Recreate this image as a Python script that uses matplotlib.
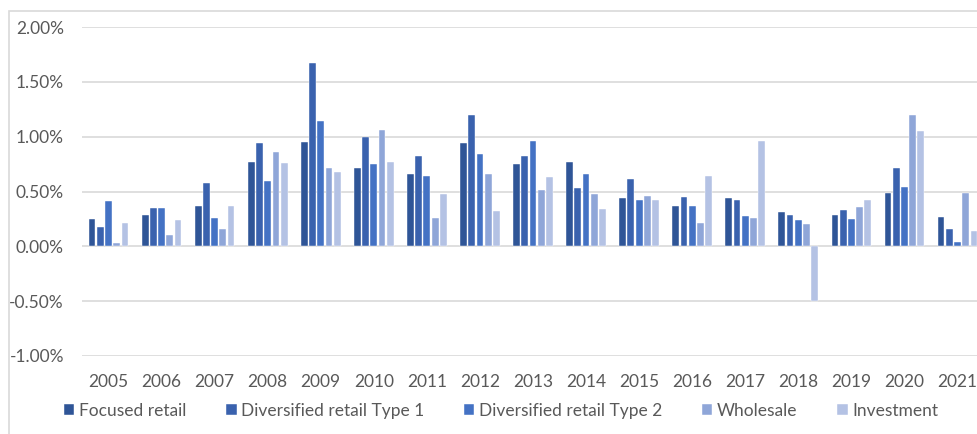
import numpy as np
import matplotlib.pyplot as plt
from matplotlib.patches import Rectangle
from matplotlib.ticker import FuncFormatter

plt.rcParams['font.family'] = ['Lato', 'DejaVu Sans']

years = ['2005', '2006', '2007', '2008', '2009', '2010', '2011', '2012', '2013',
         '2014', '2015', '2016', '2017', '2018', '2019', '2020', '2021']

focused_retail = [0.25, 0.29, 0.37, 0.77, 0.95, 0.71, 0.66, 0.94, 0.75, 0.77, 0.44, 0.37, 0.44, 0.31, 0.29, 0.49, 0.27]
diversified_1 = [0.18, 0.35, 0.58, 0.94, 1.67, 1.00, 0.82, 1.20, 0.82, 0.53, 0.61, 0.45, 0.42, 0.29, 0.33, 0.71, 0.16]
diversified_2 = [0.41, 0.35, 0.26, 0.60, 1.14, 0.75, 0.64, 0.84, 0.96, 0.66, 0.42, 0.37, 0.28, 0.24, 0.25, 0.54, 0.04]
wholesale = [0.03, 0.10, 0.16, 0.86, 0.71, 1.06, 0.26, 0.66, 0.51, 0.48, 0.46, 0.21, 0.26, 0.20, 0.36, 1.20, 0.49]
investment = [0.21, 0.24, 0.37, 0.76, 0.68, 0.77, 0.48, 0.32, 0.63, 0.34, 0.42, 0.64, 0.96, -0.50, 0.42, 1.05, 0.14]

series = [
    ('Focused retail', focused_retail, '#2F5597'),
    ('Diversified retail Type 1', diversified_1, '#3A62AE'),
    ('Diversified retail Type 2', diversified_2, '#4472C4'),
    ('Wholesale', wholesale, '#8FA6D8'),
    ('Investment', investment, '#B4C2E4'),
]

fig = plt.figure(figsize=(9.77, 4.34), dpi=100)

# outer chart frame (runs off the right and bottom edges)
fig.patches.append(Rectangle((9 / 977, -0.05), 1.0, (434 - 11) / 434 + 0.05,
                             transform=fig.transFigure, fill=False,
                             edgecolor='#D9D9D9', lw=1.2))

ax = fig.add_axes([82 / 977, 78 / 434, 902 / 977, 329 / 434])

x = np.arange(len(years))
pitch = 0.155
width = 0.128
for i, (name, vals, color) in enumerate(series):
    ax.bar(x + (i - 2) * pitch, vals, width, color=color, label=name,
           edgecolor='white', linewidth=0.3, zorder=3)

ax.set_xlim(-0.5, len(years) - 0.5)
ax.set_ylim(-1.0, 2.0)
ax.set_yticks(np.arange(-1.0, 2.01, 0.5))
ax.yaxis.set_major_formatter(FuncFormatter(lambda v, p: f'{v:.2f}%'))
ax.set_xticks(x)
ax.set_xticklabels(years)
ax.grid(axis='y', color='#D9D9D9', lw=1.2, zorder=0)
for s in ax.spines.values():
    s.set_visible(False)
ax.tick_params(axis='both', length=0, labelsize=12.5, labelcolor='#595959')
ax.tick_params(axis='y', pad=13)
ax.tick_params(axis='x', pad=13)

fig.legend(loc='center', bbox_to_anchor=(501 / 977, 1 - 411 / 434), ncol=5,
           frameon=False, fontsize=12.5, labelcolor='#595959',
           handlelength=0.6, handleheight=0.6, handletextpad=0.25,
           columnspacing=2.3, borderaxespad=0)

fig.savefig('out.png', dpi=100)
